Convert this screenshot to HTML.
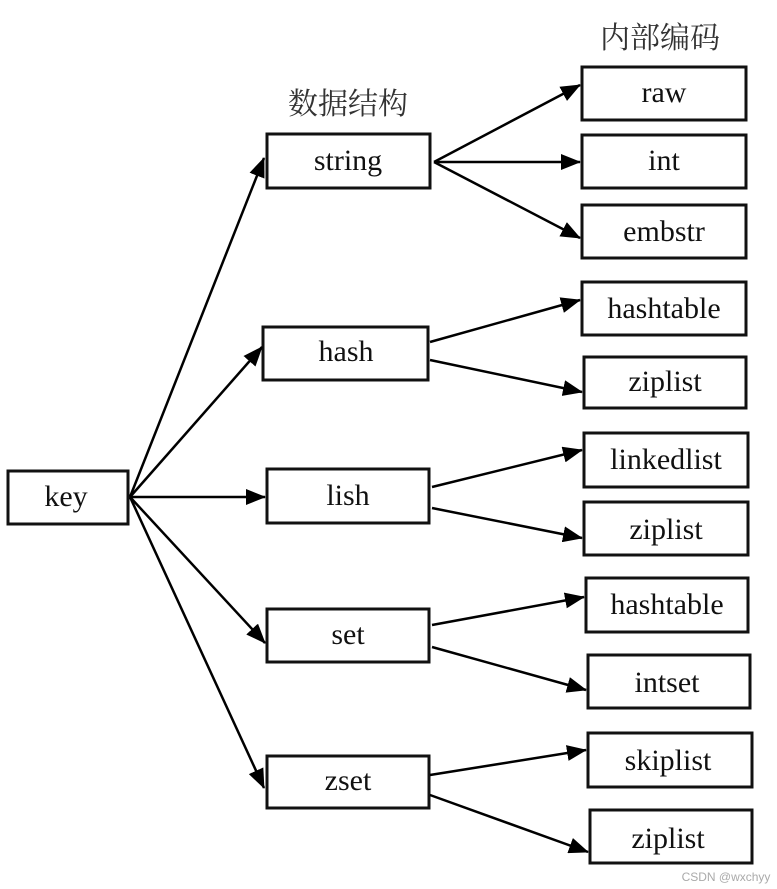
<!DOCTYPE html>
<html><head><meta charset="utf-8"><style>
html,body{margin:0;padding:0;background:#fff;}
svg{display:block;}
text{font-family:"Liberation Serif",serif;font-size:30px;fill:#111;text-anchor:middle;}
.cn{font-family:"Liberation Serif","Noto Serif CJK SC","Noto Sans CJK SC",serif;font-size:30px;fill:#333;}
</style></head><body>
<svg width="777" height="889" viewBox="0 0 777 889" xmlns="http://www.w3.org/2000/svg">
<defs><marker id="a" markerWidth="10" markerHeight="8" refX="9" refY="4" orient="auto" markerUnits="userSpaceOnUse" viewBox="0 0 10 8"><path d="M0,0 L10,4 L0,8 z" fill="#000"/></marker>
<marker id="b" markerWidth="20" markerHeight="16" refX="19" refY="8" orient="auto" markerUnits="userSpaceOnUse" viewBox="0 0 20 16"><path d="M0,0 L20,8 L0,16 z" fill="#000"/></marker></defs>
<g fill="none" stroke="#111" stroke-width="3">
<rect x="8" y="471" width="120" height="53"/>
<rect x="267" y="134" width="163" height="54"/>
<rect x="263" y="327" width="165" height="53"/>
<rect x="267" y="469" width="162" height="54"/>
<rect x="267" y="609" width="162" height="53"/>
<rect x="267" y="756" width="162" height="52"/>
<rect x="582" y="67" width="164" height="53"/>
<rect x="582" y="135" width="164" height="53"/>
<rect x="582" y="205" width="164" height="53"/>
<rect x="582" y="282" width="164" height="53"/>
<rect x="584" y="357" width="162" height="51"/>
<rect x="584" y="433" width="164" height="54"/>
<rect x="584" y="502" width="164" height="53"/>
<rect x="586" y="578" width="162" height="54"/>
<rect x="588" y="655" width="162" height="53"/>
<rect x="588" y="733" width="164" height="54"/>
<rect x="590" y="810" width="162" height="53"/>
</g>
<g stroke="#000" stroke-width="2.5" fill="none" marker-end="url(#b)">
<line x1="130" y1="497" x2="264" y2="158"/>
<line x1="130" y1="497" x2="262" y2="347"/>
<line x1="130" y1="497" x2="265" y2="497"/>
<line x1="130" y1="497" x2="265" y2="643"/>
<line x1="130" y1="497" x2="264" y2="788"/>
<line x1="434" y1="162" x2="580" y2="85"/>
<line x1="434" y1="162" x2="580" y2="162"/>
<line x1="434" y1="162" x2="580" y2="238"/>
<line x1="430" y1="342" x2="580" y2="300"/>
<line x1="430" y1="360" x2="582" y2="392"/>
<line x1="432" y1="487" x2="582" y2="450"/>
<line x1="432" y1="508" x2="582" y2="538"/>
<line x1="432" y1="625" x2="584" y2="597"/>
<line x1="432" y1="647" x2="586" y2="690"/>
<line x1="430" y1="775" x2="586" y2="750"/>
<line x1="430" y1="795" x2="588" y2="852"/>
</g>
<text class="cn" x="348" y="114">数据结构</text>
<text class="cn" x="660" y="48">内部编码</text>
<text x="66" y="506">key</text>
<text x="348" y="170">string</text>
<text x="346" y="361">hash</text>
<text x="348" y="505">lish</text>
<text x="348" y="644">set</text>
<text x="348" y="790">zset</text>
<text x="664" y="102">raw</text>
<text x="664" y="170">int</text>
<text x="664" y="241">embstr</text>
<text x="664" y="318">hashtable</text>
<text x="665" y="391">ziplist</text>
<text x="666" y="469">linkedlist</text>
<text x="666" y="539">ziplist</text>
<text x="667" y="614">hashtable</text>
<text x="667" y="692">intset</text>
<text x="668" y="770">skiplist</text>
<text x="668" y="848">ziplist</text>
<text x="726" y="881" style="font-family:'Liberation Sans',sans-serif;font-size:12px;fill:#aaa;">CSDN @wxchyy</text>
</svg>
</body></html>
